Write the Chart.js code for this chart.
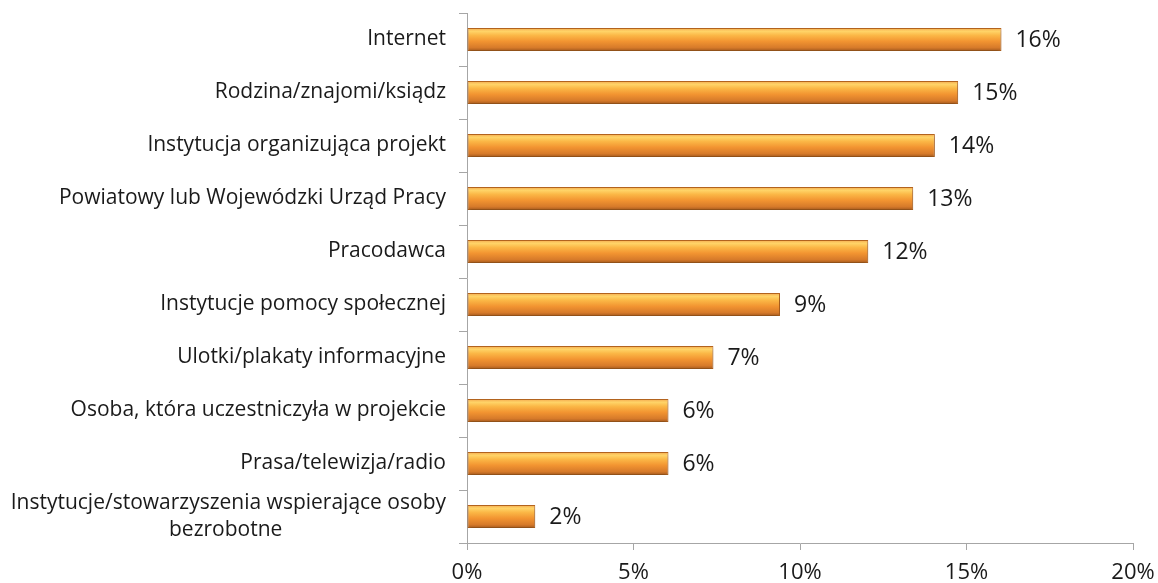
<!DOCTYPE html>
<html>
<head>
<meta charset="utf-8">
<script src="https://cdn.jsdelivr.net/npm/chart.js@4.4.0/dist/chart.umd.min.js"></script>
<style>
  body { margin: 0; background: #ffffff; }
  #wrap { width: 1158px; height: 583px; }
</style>
</head>
<body>
<div id="wrap"><canvas id="sourcesChart" width="1158" height="583"></canvas></div>
<script>
// ===================================
// Data
// ===================================
const categories = [
    'Internet',
    'Rodzina/znajomi/ksiądz',
    'Instytucja organizująca projekt',
    'Powiatowy lub Wojewódzki Urząd Pracy',
    'Pracodawca',
    'Instytucje pomocy społecznej',
    'Ulotki/plakaty informacyjne',
    'Osoba, która uczestniczyła w projekcie',
    'Prasa/telewizja/radio',
    ['Instytucje/stowarzyszenia wspierające osoby', 'bezrobotne']
];
const values = [16, 15, 14, 13, 12, 9, 7, 6, 6, 2];      // labels
const barLengths = [16.05, 14.75, 14.05, 13.4, 12.05, 9.4, 7.4, 6.05, 6.05, 2.05];
const xTicks = [0, 5, 10, 15, 20];

const FONT = "'Open Sans', 'Liberation Sans', sans-serif";
const LABEL_SIZE = 21;
const BAR_PCT = 0.43;

// measure helper, used to centre the 2nd line of a wrapped label
const measureCtx = document.createElement('canvas').getContext('2d');
function centreLines(lines) {
    measureCtx.font = LABEL_SIZE + 'px ' + FONT;
    const w0 = measureCtx.measureText(lines[0]).width;
    const sp = measureCtx.measureText('\u00A0\u00A0\u00A0\u00A0\u00A0\u00A0\u00A0\u00A0\u00A0\u00A0').width / 10;
    return lines.map(function (line, i) {
        if (i === 0) return line;
        const w = measureCtx.measureText(line).width;
        const n = Math.round((w0 - w) / 2 / sp);
        return line + '\u00A0'.repeat(Math.max(n, 0));
    });
}

// ===================================
// Orange cylinder-ish gradient per bar
// ===================================
function barGradient(context) {
    const chart = context.chart;
    const yScale = chart.scales.y;
    if (!yScale || context.dataIndex === undefined) return '#EE8C2F';
    const center = yScale.getPixelForValue(context.dataIndex);
    const band = yScale.height / categories.length;
    const half = band * BAR_PCT / 2;
    if (!isFinite(center) || !isFinite(half) || half <= 0) return '#EE8C2F';
    const g = chart.ctx.createLinearGradient(0, center - half, 0, center + half);
    g.addColorStop(0, '#F4A94F');
    g.addColorStop(0.14, '#FFD468');
    g.addColorStop(0.32, '#FBB746');
    g.addColorStop(0.58, '#F29431');
    g.addColorStop(0.86, '#D67A2A');
    g.addColorStop(1, '#A55A1E');
    return g;
}

// ===================================
// Soft shadow under bars + value labels
// ===================================
const barDecor = {
    id: 'barDecor',
    beforeDatasetsDraw(chart) {
        const ctx = chart.ctx;
        ctx.save();
        ctx.shadowColor = 'rgba(0, 0, 0, 0.28)';
        ctx.shadowBlur = 4;
        ctx.shadowOffsetY = 2;
    },
    afterDatasetsDraw(chart) {
        const ctx = chart.ctx;
        ctx.restore();
        const meta = chart.getDatasetMeta(0);
        ctx.save();
        ctx.font = '23px ' + FONT;
        ctx.fillStyle = '#1a1a1a';
        ctx.textAlign = 'left';
        ctx.textBaseline = 'middle';
        meta.data.forEach(function (bar, i) {
            ctx.fillText(values[i] + '%', bar.x + 14, bar.y + 1);
        });
        ctx.restore();
    }
};

const ctx = document.getElementById('sourcesChart').getContext('2d');

new Chart(ctx, {
    type: 'bar',
    data: {
        labels: categories,
        datasets: [{
            data: barLengths,
            backgroundColor: barGradient,
            borderColor: '#B8661F',
            borderWidth: 1,
            borderSkipped: false,
            barPercentage: BAR_PCT,
            categoryPercentage: 1
        }]
    },
    plugins: [barDecor],
    options: {
        indexAxis: 'y',
        responsive: false,
        animation: false,
        layout: { padding: { top: 13, right: 25, left: 0, bottom: 0 } },
        plugins: {
            legend: { display: false },
            tooltip: { enabled: false }
        },
        scales: {
            x: {
                min: 0,
                max: 20,
                afterBuildTicks: function (scale) {
                    scale.ticks = xTicks.map(function (v) { return { value: v }; });
                },
                afterFit: function (scale) {
                    scale.height = 40;
                    scale.paddingLeft = 0;
                    scale.paddingRight = 0;
                },
                border: { color: '#A6A6A6', width: 1 },
                grid: { drawOnChartArea: false, color: '#A6A6A6', tickLength: 7 },
                ticks: {
                    padding: 10,
                    color: '#1a1a1a',
                    font: { family: FONT, size: 22 },
                    callback: function (v) { return v + '%'; }
                }
            },
            y: {
                afterFit: function (scale) {
                    scale.width = 467;
                    scale.paddingTop = 0;
                    scale.paddingBottom = 0;
                },
                border: { color: '#A6A6A6', width: 1 },
                grid: { drawOnChartArea: false, color: '#A6A6A6', tickLength: 8, offset: true },
                ticks: {
                    autoSkip: false,
                    padding: 13,
                    color: '#1a1a1a',
                    font: { family: FONT, size: LABEL_SIZE, lineHeight: 1.3 },
                    callback: function (v, i) {
                        const lbl = categories[i];
                        return Array.isArray(lbl) ? centreLines(lbl) : lbl;
                    }
                }
            }
        }
    }
});
</script>
</body>
</html>
